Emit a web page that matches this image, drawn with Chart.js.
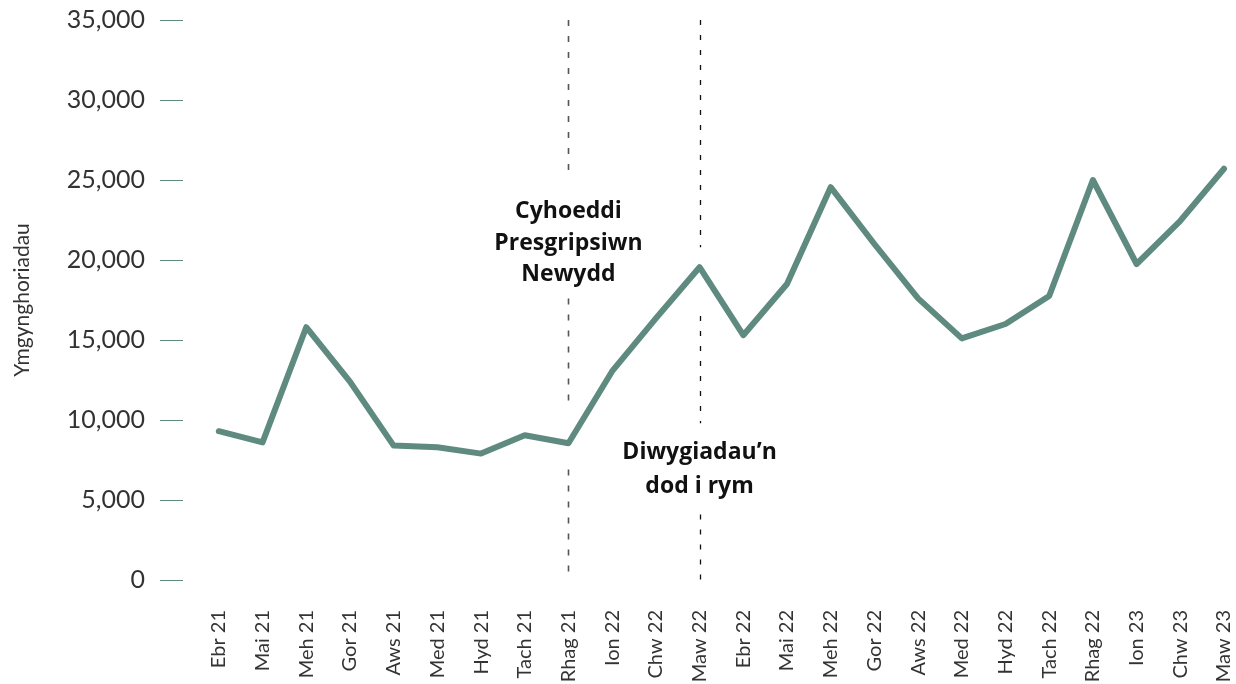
<!DOCTYPE html>
<html>
<head>
<meta charset="utf-8">
<script src="https://cdn.jsdelivr.net/npm/chart.js@4.4.1/dist/chart.umd.min.js"></script>
<style>
  html, body { margin: 0; padding: 0; background: #fff; }
  #wrap { width: 1236px; height: 684px; }
</style>
</head>
<body>
<div id="wrap"><canvas id="myChart"></canvas></div>
<script>
// months and monthly consultations
const months = ['Ebr 21', 'Mai 21', 'Meh 21', 'Gor 21', 'Aws 21', 'Med 21', 'Hyd 21', 'Tach 21', 'Rhag 21',
    'Ion 22', 'Chw 22', 'Maw 22', 'Ebr 22', 'Mai 22', 'Meh 22', 'Gor 22', 'Aws 22', 'Med 22', 'Hyd 22',
    'Tach 22', 'Rhag 22', 'Ion 23', 'Chw 23', 'Maw 23'];
const values = [9300, 8600, 15800, 12400, 8400, 8300, 7900, 9050, 8550,
    13050, 16350, 19550, 15300, 18500, 24550, 21000, 17600, 15100, 16000,
    17750, 25000, 19750, 22450, 25700];
const yTicks = [0, 5000, 10000, 15000, 20000, 25000, 30000, 35000];

const lineColor = '#5f8a80';

// dashed markers + labels (index on x, value ranges on y)
const markers = [
    { index: 8, color: '#555', width: 1.6, dash: [6, 10],
      segments: [[35000, 25000], [17600, 11000], [6900, 0]],
      text: ['Cyhoeddi', 'Presgripsiwn', 'Newydd'], textY: [23060, 21060, 19100] },
    { index: 11, color: '#111', width: 1.3, dash: [5, 10],
      segments: [[35000, 20800], [16500, 9800], [4100, 0]],
      text: ['Diwygiadau\u2019n', 'dod i rym'], textY: [8000, 5875] }
];

const markerPlugin = {
    id: 'markers',
    beforeDatasetsDraw(chart) {
        const ctx = chart.ctx, x = chart.scales.x, y = chart.scales.y;
        markers.forEach(m => {
            const px = Math.round(x.getPixelForValue(m.index)) + 0.5;
            ctx.save();
            ctx.strokeStyle = m.color;
            ctx.lineWidth = m.width;
            ctx.setLineDash(m.dash);
            m.segments.forEach(s => {
                ctx.beginPath();
                ctx.moveTo(px, y.getPixelForValue(s[0]));
                ctx.lineTo(px, y.getPixelForValue(s[1]));
                ctx.stroke();
            });
            ctx.restore();
        });
    },
    afterDraw(chart) {
        const ctx = chart.ctx, x = chart.scales.x, y = chart.scales.y;
        ctx.save();
        ctx.fillStyle = '#111';
        ctx.font = '700 23px "Open Sans", Lato, sans-serif';
        ctx.textAlign = 'center';
        ctx.textBaseline = 'middle';
        markers.forEach(m => {
            const px = x.getPixelForValue(m.index);
            m.text.forEach((t, i) => ctx.fillText(t, px, y.getPixelForValue(m.textY[i])));
        });
        ctx.restore();
    }
};

const ctx = document.getElementById('myChart').getContext('2d');
const myChart = new Chart(ctx, {
    type: 'line',
    data: {
        datasets: [{
            data: values.map((v, i) => ({ x: i, y: v })),
            borderColor: lineColor,
            borderWidth: 6,
            pointRadius: 0,
            tension: 0,
            borderCapStyle: 'round',
            borderJoinStyle: 'round',
            clip: 8
        }]
    },
    plugins: [markerPlugin],
    options: {
        responsive: true,
        maintainAspectRatio: false,
        animation: false,
        layout: { padding: { top: 20, right: 12, left: 0, bottom: 0 } },
        plugins: { legend: { display: false }, tooltip: { enabled: false } },
        scales: {
            x: {
                type: 'linear',
                min: -0.82,
                max: 23,
                afterFit: s => { s.height = 104; s.paddingLeft = 0; s.paddingRight = 0; },
                afterBuildTicks: s => { s.ticks = months.map((m, i) => ({ value: i })); },
                grid: { display: false },
                border: { display: false },
                ticks: {
                    autoSkip: false,
                    minRotation: 90,
                    maxRotation: 90,
                    padding: 22,
                    color: '#333',
                    font: { family: 'Lato, "Open Sans", sans-serif', size: 20, weight: 400 },
                    callback: v => months[v]
                }
            },
            y: {
                min: 0,
                max: 35000,
                afterFit: s => { s.width = 183; s.paddingTop = 0; s.paddingBottom = 0; },
                afterBuildTicks: s => { s.ticks = yTicks.map(v => ({ value: v })); },
                grid: { drawOnChartArea: false, tickLength: 23, color: lineColor, lineWidth: 1 },
                border: { display: false },
                title: {
                    display: true,
                    text: 'Ymgynghoriadau',
                    color: '#333',
                    padding: { top: 10, bottom: 0 },
                    font: { family: 'Lato, "Open Sans", sans-serif', size: 21, weight: 400 }
                },
                ticks: {
                    padding: 15,
                    color: '#333',
                    font: { family: 'Lato, "Open Sans", sans-serif', size: 25, weight: 400 },
                    callback: v => v.toLocaleString('en-US')
                }
            }
        }
    }
});
</script>
</body>
</html>
